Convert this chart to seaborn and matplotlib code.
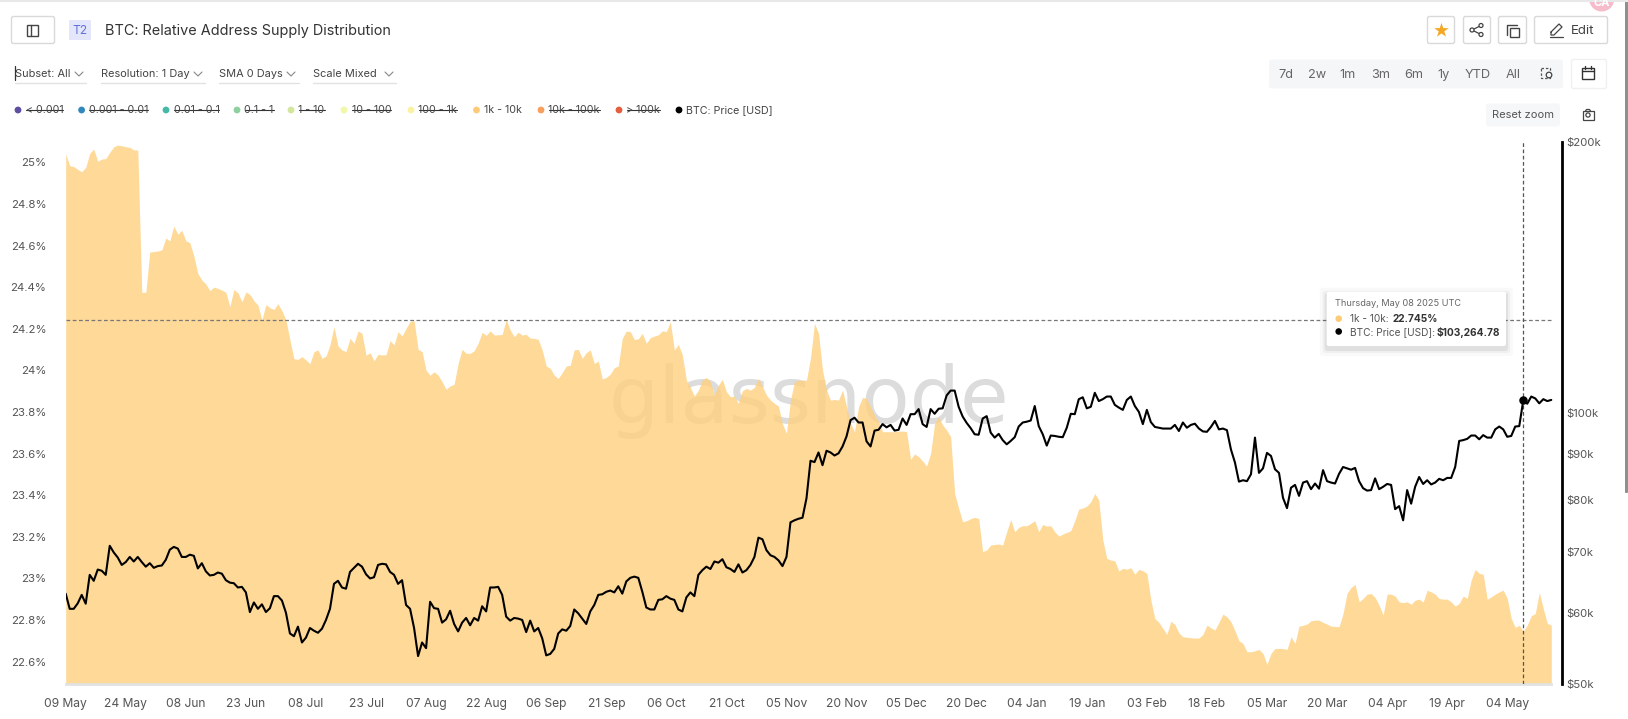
import pandas as pd
import seaborn as sns
import matplotlib.pyplot as plt
import matplotlib.dates as mdates
from matplotlib.patches import Rectangle, FancyBboxPatch, Circle
from matplotlib.ticker import NullLocator

W, H = 1628, 719

# daily readings, one value a day starting 09 May 2024
supply_pct = [
    25.04, 24.984, 24.98, 24.966, 24.955, 24.976, 25.043, 25.064, 25.005, 25.016,
    25.018, 25.048, 25.075, 25.083, 25.08, 25.075, 25.072, 25.06, 25.06, 24.375,
    24.375, 24.569, 24.571, 24.574, 24.579, 24.636, 24.622, 24.694, 24.655, 24.673,
    24.623, 24.614, 24.55, 24.466, 24.434, 24.415, 24.383, 24.40, 24.394, 24.386,
    24.375, 24.306, 24.389, 24.373, 24.33, 24.377, 24.365, 24.335, 24.314, 24.242,
    24.316, 24.301, 24.293, 24.32, 24.287, 24.242, 24.146, 24.056, 24.053, 24.066,
    24.05, 24.032, 24.09, 24.098, 24.058, 24.069, 24.122, 24.21, 24.117, 24.098,
    24.09, 24.154, 24.13, 24.189, 24.178, 24.072, 24.085, 24.046, 24.077, 24.074,
    24.075, 24.143, 24.122, 24.186, 24.165, 24.202, 24.234, 24.239, 24.101, 24.09,
    24.0, 23.977, 23.993, 23.977, 23.945, 23.909, 23.925, 23.933, 24.033, 24.101,
    24.082, 24.082, 24.094, 24.13, 24.183, 24.168, 24.19, 24.17, 24.171, 24.173,
    24.245, 24.194, 24.162, 24.183, 24.17, 24.173, 24.155, 24.154, 24.149, 24.098,
    24.021, 24.01, 23.977, 23.961, 23.989, 24.021, 24.025, 24.098, 24.101, 24.058,
    24.085, 24.098, 24.033, 24.045, 23.958, 23.966, 23.982, 24.013, 24.021, 24.154,
    24.189, 24.186, 24.149, 24.152, 24.178, 24.13, 24.157, 24.165, 24.171, 24.19,
    24.186, 24.234, 24.098, 24.125, 24.074, 23.953, 23.918, 23.876, 23.905, 23.953,
    23.966, 23.945, 23.881, 23.929, 23.957, 23.897, 23.873, 23.876, 23.841, 23.902,
    23.913, 23.905, 23.918, 23.961, 23.921, 23.881, 23.857, 23.841, 23.828, 23.742,
    23.697, 23.857, 23.945, 23.953, 23.953, 23.953, 24.058, 24.226, 24.178, 24.0,
    23.905, 23.857, 23.86, 23.857, 23.905, 23.825, 23.745, 23.705, 23.825, 23.87,
    23.865, 23.825, 23.785, 23.753, 23.705, 23.705, 23.705, 23.705, 23.708, 23.708,
    23.705, 23.572, 23.598, 23.585, 23.564, 23.54, 23.601, 23.745, 23.777, 23.737,
    23.713, 23.681, 23.408, 23.336, 23.272, 23.277, 23.287, 23.293, 23.288, 23.128,
    23.136, 23.16, 23.163, 23.165, 23.16, 23.224, 23.283, 23.224, 23.245, 23.253,
    23.253, 23.264, 23.277, 23.224, 23.259, 23.251, 23.253, 23.224, 23.203, 23.213,
    23.221, 23.229, 23.277, 23.333, 23.338, 23.347, 23.368, 23.408, 23.376, 23.184,
    23.096, 23.088, 23.084, 23.035, 23.048, 23.044, 23.051, 23.02, 23.043, 23.036,
    23.024, 22.895, 22.807, 22.788, 22.759, 22.73, 22.794, 22.778, 22.738, 22.719,
    22.717, 22.714, 22.713, 22.713, 22.73, 22.775, 22.762, 22.751, 22.788, 22.828,
    22.815, 22.791, 22.748, 22.7, 22.687, 22.647, 22.647, 22.652, 22.658, 22.639,
    22.586, 22.639, 22.663, 22.663, 22.663, 22.658, 22.719, 22.687, 22.77, 22.774,
    22.78, 22.796, 22.799, 22.799, 22.788, 22.78, 22.77, 22.769, 22.767, 22.831,
    22.928, 22.956, 22.971, 22.887, 22.903, 22.924, 22.927, 22.908, 22.871, 22.823,
    22.924, 22.924, 22.915, 22.887, 22.883, 22.887, 22.875, 22.895, 22.9, 22.886,
    22.943, 22.935, 22.924, 22.903, 22.9, 22.9, 22.887, 22.866, 22.879, 22.915,
    22.903, 22.992, 23.043, 23.024, 23.02, 22.899, 22.911, 22.924, 22.935, 22.943,
    22.903, 22.807, 22.764, 22.774, 22.745, 22.775, 22.82, 22.831, 22.931, 22.855,
    22.783, 22.775,
]

price_k = [
    63.0, 60.6, 60.6, 61.45, 62.8, 61.4, 66.1, 65.1, 67.0, 66.8,
    66.1, 71.2, 70.0, 69.1, 67.8, 68.3, 69.2, 68.4, 69.2, 68.3,
    67.5, 68.1, 67.3, 67.6, 67.7, 68.7, 70.5, 71.0, 70.7, 69.2,
    69.2, 69.6, 69.4, 67.2, 68.1, 66.7, 66.0, 66.1, 66.5, 66.3,
    65.2, 64.8, 64.7, 64.0, 64.1, 63.2, 60.1, 61.6, 60.6, 61.3,
    60.1, 60.7, 62.6, 62.6, 61.9, 60.0, 56.9, 56.5, 57.9, 55.6,
    56.3, 57.7, 57.3, 57.0, 57.6, 58.9, 60.6, 64.6, 65.1, 64.0,
    63.8, 66.6, 67.3, 68.0, 67.5, 66.2, 65.5, 65.7, 67.8, 68.0,
    67.9, 66.6, 66.1, 64.6, 65.2, 61.2, 60.6, 57.7, 53.7, 55.6,
    54.8, 61.7, 60.7, 60.6, 58.5, 59.0, 60.3, 58.3, 57.2, 58.5,
    59.2, 58.1, 59.2, 58.8, 61.0, 60.2, 64.0, 64.0, 64.1, 62.8,
    59.4, 58.8, 59.2, 59.1, 58.9, 57.1, 58.8, 57.2, 57.7, 56.2,
    53.8, 54.0, 54.7, 56.9, 57.5, 57.3, 58.0, 60.5, 59.9, 59.1,
    58.3, 60.2, 61.2, 62.8, 62.9, 63.3, 63.5, 63.2, 64.2, 63.0,
    65.0, 65.6, 65.8, 65.6, 63.3, 60.8, 60.5, 60.5, 62.0, 62.1,
    62.6, 62.2, 62.0, 60.5, 60.2, 62.4, 63.2, 62.6, 66.1, 66.9,
    67.5, 67.1, 68.4, 68.2, 68.8, 67.4, 67.1, 66.6, 67.9, 66.5,
    66.9, 67.8, 69.2, 72.7, 72.4, 70.4, 69.5, 69.2, 68.6, 67.6,
    69.2, 75.6, 76.0, 76.3, 76.5, 80.4, 88.5, 88.2, 90.4, 87.5,
    90.8, 90.4, 89.7, 90.2, 91.8, 94.2, 98.2, 98.8, 97.6, 97.6,
    93.0, 91.8, 95.6, 95.8, 97.2, 96.4, 97.0, 95.6, 95.8, 98.6,
    97.0, 99.7, 99.7, 101.0, 97.2, 96.5, 101.0, 99.8, 101.1, 101.2,
    104.6, 105.9, 105.9, 101.6, 99.1, 97.5, 96.2, 94.7, 94.6, 98.6,
    99.2, 95.1, 93.9, 94.8, 93.3, 92.3, 93.1, 94.0, 96.6, 97.6,
    97.8, 98.1, 101.8, 96.7, 94.7, 92.0, 94.4, 94.3, 94.1, 94.0,
    96.3, 99.8, 99.7, 103.6, 104.1, 101.2, 101.6, 105.3, 103.1, 103.6,
    104.3, 104.3, 102.1, 101.4, 100.8, 103.4, 104.3, 101.8, 100.3, 97.2,
    100.8, 97.7, 96.5, 96.3, 96.1, 96.1, 96.1, 97.0, 95.5, 97.6,
    96.3, 97.0, 97.3, 96.1, 95.4, 95.3, 96.5, 98.0, 95.9, 96.1,
    95.7, 91.1, 88.1, 83.9, 84.2, 84.0, 85.5, 93.9, 85.8, 86.8,
    90.3, 89.6, 86.6, 85.8, 80.5, 78.4, 82.6, 83.2, 80.9, 83.7,
    84.0, 82.3, 83.5, 82.4, 86.4, 84.0, 83.7, 83.5, 85.6, 87.1,
    86.8, 86.5, 86.9, 84.0, 82.5, 82.0, 82.1, 84.6, 82.3, 82.8,
    83.4, 83.2, 78.2, 78.8, 76.0, 82.1, 79.3, 82.8, 84.9, 83.4,
    84.2, 83.3, 83.7, 84.5, 84.2, 84.7, 84.7, 87.1, 93.1, 93.3,
    93.6, 94.4, 94.4, 93.5, 94.5, 93.9, 93.9, 95.9, 96.6, 95.9,
    94.1, 94.3, 96.6, 96.7, 103.26, 102.4, 104.3, 103.8, 102.5, 103.6,
    103.1, 103.4,
]

x_tick_labels = ['09 May', '24 May', '08 Jun', '23 Jun', '08 Jul', '23 Jul', '07 Aug', '22 Aug',
                 '06 Sep', '21 Sep', '06 Oct', '21 Oct', '05 Nov', '20 Nov', '05 Dec', '20 Dec',
                 '04 Jan', '19 Jan', '03 Feb', '18 Feb', '05 Mar', '20 Mar', '04 Apr', '19 Apr', '04 May']
left_ticks = [22.6, 22.8, 23, 23.2, 23.4, 23.6, 23.8, 24, 24.2, 24.4, 24.6, 24.8, 25]
left_labels = ['22.6%', '22.8%', '23%', '23.2%', '23.4%', '23.6%', '23.8%', '24%', '24.2%', '24.4%', '24.6%', '24.8%', '25%']
right_ticks = [50000, 60000, 70000, 80000, 90000, 100000, 200000]
right_labels = ['$50k', '$60k', '$70k', '$80k', '$90k', '$100k', '$200k']

legend_names = ['< 0.001', '0.001 - 0.01', '0.01 - 0.1', '0.1 - 1', '1 - 10', '10 - 100', '100 - 1k',
                '1k - 10k', '10k - 100k', '> 100k', 'BTC: Price [USD]']
legend_colors = ['#5e4fa2', '#3288bd', '#46b8a8', '#8fd0a0', '#d3e79c', '#f1f8a8', '#fbf1a3',
                 '#fdcb78', '#f99f5c', '#e2603f', '#000000']
legend_dot_x = [18, 81.6, 166, 237, 291, 344, 411, 476.5, 541, 619, 679]
legend_hidden = [True, True, True, True, True, True, True, False, True, True, False]

hover_level = 24.243
hover_price = 103264.78

sns.set_theme(style='white')
plt.rcParams['font.family'] = ['Inter', 'DejaVu Sans']

start = pd.Timestamp('2024-05-09')
supply = pd.DataFrame({'date': pd.date_range(start, periods=len(supply_pct)), 'pct': supply_pct})
price = pd.DataFrame({'date': pd.date_range(start, periods=len(price_k)), 'usd': [v * 1000 for v in price_k]})
hover_day = pd.Timestamp('2025-05-08')

fig = plt.figure(figsize=(W / 100, H / 100), dpi=100, facecolor='white')
x0, x1, y0, y1 = 65.7, 1561.7, 142, 684
ax = fig.add_axes([x0 / W, 1 - y1 / H, (x1 - x0) / W, (y1 - y0) / H])
ax.set_facecolor('none')

# fill is see-through so the watermark shows faintly behind it
FILL = '#fed07e'
ax.text(609 / W, 1 - 423 / H, 'glassnode', transform=fig.transFigure, fontsize=57, color='#dcdcdc',
        family='DejaVu Sans', va='baseline', ha='left', zorder=1)
sns.lineplot(data=supply, x='date', y='pct', ax=ax, color=FILL, linewidth=0, errorbar=None)
ax.fill_between(supply['date'], supply['pct'], 22.492, color=FILL, alpha=0.8, linewidth=0, zorder=2)

ax.set_xlim(start, start + pd.Timedelta(days=373.6))
ax.set_ylim(22.492, 25.098)
ax.set_xticks(pd.date_range(start, periods=len(x_tick_labels), freq='15D'), x_tick_labels)
ax.set_yticks(left_ticks, left_labels)
ax.set_xlabel('')
ax.set_ylabel('')
ax.tick_params(axis='x', length=5, width=1, color='#e2e2e2', labelsize=8.7, labelcolor='#555555', pad=5)
ax.tick_params(axis='y', length=0, labelsize=8.2, labelcolor='#555555', pad=14)
for s in ['top', 'left', 'right']:
    ax.spines[s].set_visible(False)
ax.spines['bottom'].set_color('#e2e2e2')
ax.spines['bottom'].set_linewidth(2)
ax.spines['bottom'].set_bounds(mdates.date2num(start), mdates.date2num(supply['date'].iloc[-1]))
ax.hlines(hover_level, start, start + pd.Timedelta(days=371.5), color='#777777', linewidth=0.9, linestyles=(0, (3, 2)), zorder=3)

ax2 = ax.twinx()
ax2.set_facecolor('none')
sns.lineplot(data=price, x='date', y='usd', ax=ax2, color='black', linewidth=1.5, errorbar=None, zorder=5)
ax2.set_yscale('log')
ax2.set_ylim(50000, 200000)
ax2.set_yticks(right_ticks, right_labels)
ax2.yaxis.set_minor_locator(NullLocator())
ax2.set_ylabel('')
ax2.tick_params(axis='y', length=0, labelsize=8.2, labelcolor='#555555', pad=3.5)
for s in ['top', 'left', 'bottom']:
    ax2.spines[s].set_visible(False)
ax2.spines['right'].set_color('black')
ax2.spines['right'].set_linewidth(2)
ax2.axvline(hover_day, color='#555555', linewidth=0.9, linestyle=(0, (3, 2)), zorder=4)
ax2.scatter([hover_day], [hover_price], s=26, color='black', zorder=6)

# page furniture around the chart, in pixel coordinates
ui = fig.add_axes([0, 0, 1, 1], zorder=10)
ui.set_xlim(0, W)
ui.set_ylim(H, 0)
ui.axis('off')
ui.patch.set_alpha(0)


def box(x, y, w, h, fc='white', ec='#d9d9d9', lw=1.0, round_=2, **kw):
    p = FancyBboxPatch((x + round_, y + round_), w - 2 * round_, h - 2 * round_,
                       boxstyle=f'round,pad={round_},rounding_size={round_}', fc=fc, ec=ec, lw=lw, **kw)
    ui.add_patch(p)
    return p


def label(x, y, s, size=8.3, color='#555555', ha='left', weight='normal'):
    return ui.text(x, y, s, fontsize=size, color=color, ha=ha, va='center', fontweight=weight)


def chevron(x, y):
    ui.plot([x - 4, x, x + 4], [y - 2, y + 2, y - 2], color='#888888', lw=0.8)


ui.plot([0, W], [0.5, 0.5], color='#e8e8e8', lw=1.5)
box(1625, 0, 3, 493, fc='#8f8f8f', ec='none', round_=1)

# title row
box(11.5, 16.5, 43, 27)
ui.add_patch(Rectangle((27, 25), 11, 11, fc='none', ec='#444444', lw=1))
ui.plot([31, 31], [25, 36], color='#444444', lw=1)
box(69, 20, 22, 20, fc='#e4e6fb', ec='none', round_=1)
label(80, 30.5, 'T2', size=8.6, color='#5f73d8', ha='center')
label(105, 31, 'BTC: Relative Address Supply Distribution', size=10.4, color='#333333')

ui.add_patch(Circle((1601.7, -1), 12.5, fc='#f6bccb', ec='none'))
label(1601.7, 3, 'CA', size=8, color='white', ha='center', weight='bold')
box(1427.5, 16.5, 27, 27)
ui.scatter([1440.7], [30], marker='*', s=120, color='#f5a623', zorder=3, linewidths=0)
box(1463.5, 16.5, 27, 27)
for cx, cy in [(1481, 25.5), (1472, 30), (1481, 34.5)]:
    ui.add_patch(Circle((cx, cy), 2, fc='white', ec='#444444', lw=0.9, zorder=3))
ui.plot([1481, 1472, 1481], [25.5, 30, 34.5], color='#444444', lw=0.9)
box(1498.5, 16.5, 28, 27)
ui.plot([1507, 1507, 1517], [35, 25, 25], color='#444444', lw=1)
ui.add_patch(Rectangle((1510, 27.5), 9, 9, fc='white', ec='#444444', lw=1))
box(1534.5, 16.5, 73, 27)
ui.plot([1551, 1559, 1562, 1554, 1551, 1551], [32, 24, 27, 35, 35, 32], color='#444444', lw=0.9)
ui.plot([1550, 1563], [36.5, 36.5], color='#444444', lw=0.9)
label(1571, 31, 'Edit', size=9.6, color='#444444')

# dropdowns
for x, end, chev, s in [(15, 86, 79, 'Subset: All'), (101, 205, 198, 'Resolution: 1 Day'),
                        (219, 299, 291, 'SMA 0 Days'), (313, 396, 389, 'Scale Mixed')]:
    label(x, 74, s, size=7.9, color='#444444')
    chevron(chev, 74)
    ui.plot([x, end], [83, 83], color='#e2e2e2', lw=1)
ui.plot([15, 15], [66, 80], color='#333333', lw=0.9)

# legend
for dx, name, col, hidden in zip(legend_dot_x, legend_names, legend_colors, legend_hidden):
    ui.add_patch(Circle((dx, 110), 3.4, fc=col, ec='none'))
    t = label(dx + 7.5, 110, name, size=7.7, color='#444444')
    if hidden:
        fig.canvas.draw()
        bb = t.get_window_extent()
        ui.plot([bb.x0, bb.x1], [110, 110], color='#333333', lw=0.8)

# range buttons
box(1269, 59.5, 294, 29, fc='#f5f6f8', ec='none', round_=3)
for cx, s in [(1286, '7d'), (1316.7, '2w'), (1348, '1m'), (1380.7, '3m'), (1414, '6m'),
              (1444, '1y'), (1478, 'YTD'), (1512.7, 'All')]:
    label(cx, 75, s, size=9.2, color='#666666', ha='center')
ui.add_patch(Rectangle((1541, 67.5), 9, 10, fc='none', ec='#555555', lw=0.9, linestyle=(0, (2, 1.5))))
ui.add_patch(Circle((1549, 75), 2.8, fc='#f5f6f8', ec='#444444', lw=0.9, zorder=3))
box(1571.5, 59.5, 35, 29, ec='#f0f0f0')
ui.add_patch(Rectangle((1582, 67.5), 12, 11, fc='none', ec='#333333', lw=1))
ui.plot([1582, 1594], [71, 71], color='#333333', lw=1)
ui.plot([1585, 1585], [65.5, 69], color='#333333', lw=1)
ui.plot([1591, 1591], [65.5, 69], color='#333333', lw=1)
box(1486, 103.5, 74, 23, fc='#f6f7f9', ec='none', round_=3)
label(1523, 115, 'Reset zoom', size=8, color='#555555', ha='center')
ui.add_patch(Rectangle((1582.5, 111), 11, 8.5, fc='none', ec='#444444', lw=0.9))
ui.add_patch(Circle((1588, 115), 2.1, fc='none', ec='#444444', lw=0.9))
ui.plot([1585.5, 1586.5, 1589.5, 1590.5], [111, 109.5, 109.5, 111], color='#444444', lw=0.9)

# hover tooltip
for grow, a in [(7, 0.025), (4, 0.04), (2, 0.06)]:
    box(1326.7 - grow, 291.7 - grow + 3, 179.3 + 2 * grow, 54.3 + 2 * grow, fc='black', ec='none', round_=3, alpha=a)
box(1326.7, 291.7, 179.3, 54.3, ec='none', round_=2)
label(1335, 303, 'Thursday, May 08 2025 UTC', size=6.6, color='#666666')
ui.add_patch(Circle((1338.7, 318.7), 3.3, fc='#fdcb78', ec='none'))
label(1350, 319, '1k - 10k:', size=7.3, color='#555555')
label(1392.5, 319, '22.745%', size=7.3, color='#333333', weight='bold')
ui.add_patch(Circle((1338.7, 331.5), 3.3, fc='black', ec='none'))
label(1350, 332, 'BTC: Price [USD]:', size=7.3, color='#555555')
label(1436.5, 332, '$103,264.78', size=7.3, color='#333333', weight='bold')

fig.savefig('out.png', dpi=100, facecolor='white')
